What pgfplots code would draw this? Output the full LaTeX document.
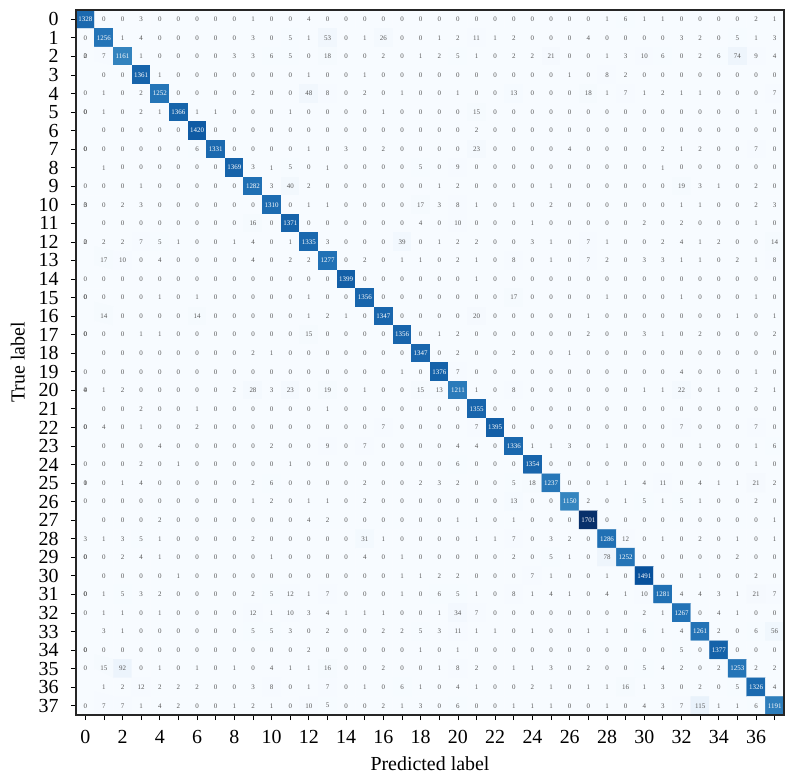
\documentclass[border=0pt]{standalone}
\usepackage{fontspec}
\setmainfont{Liberation Serif}
\usepackage{pgfplots}
\pgfplotsset{compat=1.18}

\pgfplotsset{colormap={blues}{rgb255=(247,251,255) rgb255=(222,235,247) rgb255=(198,219,239)
  rgb255=(158,202,225) rgb255=(107,174,214) rgb255=(66,146,198) rgb255=(33,113,181)
  rgb255=(8,81,156) rgb255=(8,48,107)}}

\begin{document}
\begin{tikzpicture}
\begin{axis}[
    scale only axis,
    width=708bp, height=705bp,
    xmin=-0.5, xmax=37.5, ymin=-0.5, ymax=37.5,
    y dir=reverse,
    enlargelimits=false,
    axis on top,
    colormap name=blues,
    point meta min=0, point meta max=1701,
    xtick={0,2,...,36}, minor xtick={1,3,...,37},
    ytick={0,1,...,37},
    tick pos=left, tick align=outside,
    major tick length=5bp, minor tick length=5bp,
    tick style={black, line width=0.8pt},
    tick label style={font=\fontsize{20}{24}\selectfont},
    yticklabel style={xshift=-9bp},
    xticklabel style={yshift=-7bp},
    /pgf/number format/assume math mode=true,
    label style={font=\fontsize{20}{24}\selectfont},
    xlabel={Predicted label},
    ylabel={True label},
    ylabel shift=7bp,
    xlabel shift=6bp,
    axis line style={line width=1.2pt, black!85},
]

\addplot[matrix plot*, mesh/cols=38, point meta=explicit,
    nodes near coords={\ifdim\pgfplotspointmetatransformed pt>450pt\color{white}\fi\pgfmathprintnumber[fixed,precision=0,1000 sep={}]{\pgfplotspointmeta}},
    nodes near coords align=center,
    every node near coord/.append style={font=\fontsize{7}{8}\selectfont, inner sep=0pt, anchor=center, text=black!65}]
  table[row sep=\\, header=false, x expr={mod(\coordindex,38)}, y expr={floor(\coordindex/38)}, meta index=0] {
1328\\0\\0\\3\\0\\0\\0\\0\\0\\1\\0\\0\\4\\0\\0\\0\\0\\0\\0\\0\\0\\0\\0\\0\\0\\0\\0\\0\\1\\6\\1\\1\\0\\0\\0\\0\\2\\1\\
0\\1256\\1\\4\\0\\0\\0\\0\\0\\3\\0\\5\\1\\53\\0\\1\\26\\0\\0\\1\\2\\11\\1\\2\\0\\0\\0\\4\\0\\0\\0\\0\\3\\2\\0\\5\\1\\3\\
2\\7\\1161\\1\\0\\0\\0\\0\\3\\3\\6\\5\\0\\18\\0\\0\\2\\0\\1\\2\\5\\1\\0\\2\\2\\21\\0\\0\\1\\3\\10\\6\\0\\2\\6\\74\\9\\4\\
0\\0\\0\\1361\\1\\0\\0\\0\\0\\0\\0\\0\\1\\0\\0\\1\\0\\0\\0\\0\\0\\0\\0\\0\\0\\0\\1\\0\\8\\2\\0\\0\\0\\0\\0\\0\\0\\0\\
0\\1\\0\\2\\1252\\0\\0\\0\\0\\2\\0\\0\\48\\8\\0\\2\\0\\1\\0\\0\\1\\0\\0\\13\\0\\0\\0\\18\\1\\7\\1\\2\\1\\1\\0\\0\\0\\7\\
0\\1\\0\\2\\1\\1366\\1\\1\\0\\0\\0\\1\\0\\0\\0\\0\\1\\0\\0\\0\\0\\15\\0\\0\\0\\0\\0\\0\\0\\0\\0\\0\\0\\0\\0\\0\\1\\0\\
0\\0\\0\\0\\0\\0\\1420\\0\\0\\0\\0\\0\\0\\0\\0\\0\\0\\0\\0\\0\\0\\2\\0\\0\\0\\0\\0\\0\\0\\0\\0\\0\\0\\0\\0\\0\\0\\0\\
0\\0\\0\\0\\0\\0\\6\\1331\\0\\0\\0\\0\\1\\0\\3\\0\\2\\0\\0\\0\\0\\23\\0\\0\\0\\0\\4\\0\\0\\0\\0\\2\\1\\2\\0\\0\\7\\0\\
0\\1\\0\\0\\0\\0\\0\\0\\1369\\3\\1\\5\\0\\1\\0\\0\\0\\0\\5\\0\\9\\0\\0\\0\\0\\0\\0\\0\\0\\0\\0\\1\\0\\0\\0\\0\\0\\0\\
0\\0\\0\\1\\0\\0\\0\\0\\0\\1282\\3\\40\\2\\0\\0\\0\\0\\0\\0\\1\\2\\0\\0\\0\\0\\1\\0\\0\\0\\0\\0\\0\\19\\3\\1\\0\\2\\0\\
3\\0\\2\\3\\0\\0\\0\\0\\0\\0\\1310\\0\\1\\1\\0\\0\\0\\0\\17\\3\\8\\1\\0\\1\\0\\2\\0\\0\\0\\0\\0\\0\\1\\1\\0\\0\\2\\3\\
0\\0\\0\\0\\0\\0\\0\\0\\0\\16\\0\\1371\\0\\0\\0\\0\\0\\0\\4\\0\\10\\0\\0\\0\\1\\0\\0\\0\\0\\0\\2\\0\\2\\0\\0\\0\\1\\0\\
0\\2\\2\\7\\5\\1\\0\\0\\1\\4\\0\\1\\1335\\3\\0\\0\\0\\39\\0\\1\\2\\2\\0\\0\\3\\1\\0\\7\\1\\0\\0\\2\\4\\1\\2\\0\\0\\14\\
2\\17\\10\\0\\4\\0\\0\\0\\0\\4\\0\\2\\2\\1277\\0\\2\\0\\1\\1\\0\\2\\1\\0\\8\\0\\1\\0\\7\\2\\0\\3\\3\\1\\1\\0\\2\\1\\8\\
0\\0\\0\\0\\0\\0\\0\\0\\0\\0\\0\\0\\0\\0\\1399\\0\\0\\0\\0\\0\\0\\1\\0\\0\\0\\0\\0\\0\\0\\0\\0\\0\\0\\0\\0\\0\\0\\0\\
0\\0\\0\\0\\1\\0\\1\\0\\0\\0\\0\\0\\1\\0\\0\\1356\\0\\0\\0\\0\\0\\0\\0\\17\\0\\0\\0\\0\\1\\0\\0\\0\\1\\0\\0\\0\\1\\0\\
0\\14\\0\\0\\0\\0\\14\\0\\0\\0\\0\\0\\1\\2\\1\\0\\1347\\0\\0\\0\\0\\20\\0\\0\\0\\0\\0\\1\\0\\0\\0\\0\\0\\0\\0\\1\\0\\1\\
0\\0\\0\\1\\1\\0\\0\\0\\0\\0\\0\\0\\15\\0\\0\\0\\0\\1356\\0\\1\\2\\0\\0\\0\\0\\0\\0\\2\\0\\0\\3\\1\\0\\2\\0\\0\\0\\2\\
0\\0\\0\\0\\0\\0\\0\\0\\0\\2\\1\\0\\0\\0\\0\\0\\0\\0\\1347\\0\\2\\0\\0\\2\\0\\0\\1\\0\\0\\0\\0\\0\\0\\0\\0\\0\\0\\0\\
0\\0\\0\\0\\0\\0\\0\\0\\0\\0\\0\\0\\0\\0\\0\\0\\0\\1\\0\\1376\\7\\0\\0\\0\\0\\0\\0\\0\\0\\0\\0\\0\\4\\0\\0\\0\\1\\0\\
4\\1\\2\\0\\0\\0\\0\\0\\2\\28\\3\\23\\0\\19\\0\\1\\0\\0\\15\\13\\1211\\1\\0\\8\\0\\0\\0\\0\\0\\0\\1\\1\\22\\0\\1\\0\\2\\1\\
0\\0\\0\\2\\0\\0\\1\\0\\0\\0\\0\\0\\0\\1\\0\\0\\0\\0\\0\\0\\0\\1355\\0\\0\\0\\0\\0\\0\\0\\0\\0\\0\\0\\0\\0\\0\\0\\0\\
0\\4\\0\\1\\0\\0\\2\\0\\0\\0\\0\\0\\0\\0\\0\\0\\7\\0\\0\\0\\0\\7\\1395\\0\\0\\0\\0\\0\\0\\0\\0\\0\\7\\0\\0\\0\\7\\0\\
0\\0\\0\\0\\4\\0\\0\\0\\0\\0\\2\\0\\0\\9\\0\\7\\0\\0\\0\\0\\4\\4\\0\\1336\\1\\1\\3\\0\\1\\0\\0\\0\\0\\1\\0\\0\\1\\6\\
0\\0\\0\\2\\0\\1\\0\\0\\0\\0\\0\\1\\0\\0\\0\\0\\0\\0\\0\\0\\6\\0\\0\\0\\1354\\0\\0\\0\\0\\0\\0\\0\\0\\0\\0\\0\\1\\0\\
1\\0\\1\\4\\0\\0\\0\\0\\0\\2\\6\\0\\0\\0\\0\\2\\0\\0\\2\\3\\2\\0\\0\\5\\18\\1237\\0\\0\\1\\1\\4\\11\\0\\4\\1\\1\\21\\2\\
0\\0\\0\\0\\0\\0\\0\\0\\0\\1\\2\\0\\1\\1\\0\\2\\0\\0\\0\\0\\0\\0\\0\\13\\0\\0\\1150\\2\\0\\1\\5\\1\\5\\1\\0\\0\\2\\0\\
0\\0\\0\\0\\2\\0\\0\\0\\0\\0\\0\\0\\4\\2\\0\\0\\0\\0\\0\\0\\1\\1\\0\\1\\0\\0\\0\\1701\\0\\0\\0\\0\\0\\0\\0\\0\\0\\1\\
3\\1\\3\\5\\1\\0\\0\\0\\0\\2\\0\\0\\0\\0\\0\\31\\1\\0\\0\\0\\0\\1\\1\\7\\0\\3\\2\\0\\1286\\12\\0\\1\\0\\2\\0\\1\\0\\1\\
0\\0\\2\\4\\1\\0\\0\\0\\0\\0\\1\\0\\0\\0\\0\\4\\0\\1\\0\\0\\0\\0\\0\\2\\0\\5\\1\\0\\78\\1252\\0\\0\\0\\0\\0\\2\\0\\0\\
0\\0\\0\\0\\0\\1\\0\\0\\0\\0\\0\\0\\0\\0\\0\\0\\0\\1\\1\\2\\2\\0\\0\\0\\7\\1\\0\\0\\1\\0\\1491\\0\\0\\1\\0\\0\\2\\0\\
0\\1\\5\\3\\2\\0\\0\\0\\0\\2\\5\\12\\1\\7\\0\\0\\0\\1\\0\\6\\5\\1\\0\\8\\1\\4\\1\\0\\4\\1\\10\\1281\\4\\4\\3\\1\\21\\7\\
0\\1\\1\\0\\1\\0\\0\\0\\0\\12\\1\\10\\3\\4\\1\\1\\1\\0\\0\\1\\34\\7\\0\\0\\0\\0\\0\\0\\0\\0\\2\\1\\1267\\0\\4\\1\\0\\0\\
0\\3\\1\\0\\0\\0\\0\\0\\0\\5\\5\\3\\0\\2\\0\\0\\2\\2\\5\\3\\11\\1\\1\\0\\1\\0\\0\\1\\1\\0\\6\\1\\4\\1261\\2\\0\\6\\56\\
0\\0\\0\\0\\0\\0\\0\\0\\0\\0\\0\\0\\2\\0\\0\\0\\0\\0\\1\\0\\1\\0\\0\\0\\0\\0\\0\\0\\0\\0\\0\\0\\5\\0\\1377\\0\\0\\0\\
0\\15\\92\\0\\1\\0\\1\\0\\1\\0\\4\\1\\1\\16\\0\\0\\2\\0\\0\\1\\8\\2\\0\\1\\1\\3\\0\\2\\0\\0\\5\\4\\2\\0\\2\\1253\\2\\2\\
0\\1\\2\\12\\2\\2\\2\\0\\0\\3\\8\\0\\1\\7\\0\\1\\0\\6\\1\\0\\4\\1\\0\\0\\2\\1\\0\\1\\1\\16\\1\\3\\0\\2\\0\\5\\1326\\4\\
0\\7\\7\\1\\4\\2\\0\\0\\1\\2\\1\\0\\10\\5\\0\\0\\2\\1\\3\\0\\6\\0\\0\\1\\1\\1\\0\\0\\1\\0\\4\\3\\7\\115\\1\\1\\6\\1191\\
};

\end{axis}
\path (current axis.south west) ++(-76bp,-63bp);
\path (current axis.north east) ++(1bp,10bp);
\end{tikzpicture}
\end{document}
